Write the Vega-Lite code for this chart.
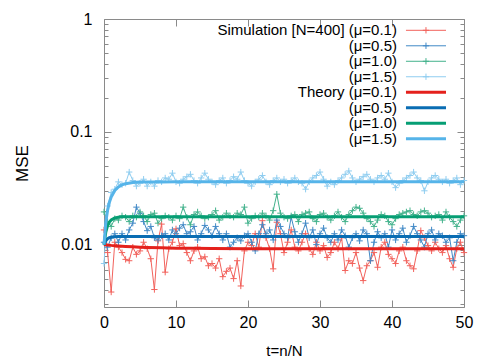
{
  "$schema": "https://vega.github.io/schema/vega-lite/v6.json",
  "width": 360,
  "height": 288,
  "autosize": {"type": "none"},
  "padding": {"left": 104, "top": 19, "right": 16, "bottom": 53},
  "background": "white",
  "config": {
    "view": {"stroke": "#8a8a8a", "strokeWidth": 1},
    "axis": {"domain": false, "grid": false, "tickColor": "#8a8a8a", "labelFont": "Liberation Sans", "titleFont": "Liberation Sans", "labelFontSize": 16, "titleFontSize": 15, "labelColor": "#000", "titleColor": "#000", "titleFontWeight": "normal", "labelFlush": false, "labelOverlap": false},
    "text": {"font": "Liberation Sans"}
  },
  "datasets": {
    "sim": [
      {"t":0,"sr":0.0135,"sb":0.0105,"sg":0.0195,"sc":0.0068},
      {"t":0.5,"sr":0.0085,"sb":0.0095,"sg":0.016,"sc":0.022},
      {"t":1,"sr":0.0038,"sb":0.0115,"sg":0.0145,"sc":0.029},
      {"t":1.5,"sr":0.0105,"sb":0.0125,"sg":0.017,"sc":0.031},
      {"t":2,"sr":0.0095,"sb":0.0105,"sg":0.0165,"sc":0.036},
      {"t":2.5,"sr":0.0085,"sb":0.0125,"sg":0.018,"sc":0.034},
      {"t":3,"sr":0.0074,"sb":0.011,"sg":0.0175,"sc":0.035},
      {"t":3.5,"sr":0.0072,"sb":0.0135,"sg":0.016,"sc":0.044},
      {"t":4,"sr":0.0095,"sb":0.0155,"sg":0.018,"sc":0.037},
      {"t":4.5,"sr":0.0082,"sb":0.0215,"sg":0.0175,"sc":0.033},
      {"t":5,"sr":0.0088,"sb":0.019,"sg":0.0195,"sc":0.035},
      {"t":5.5,"sr":0.0105,"sb":0.016,"sg":0.018,"sc":0.038},
      {"t":6,"sr":0.0092,"sb":0.0133,"sg":0.016,"sc":0.033},
      {"t":6.5,"sr":0.0075,"sb":0.0145,"sg":0.0185,"sc":0.036},
      {"t":7,"sr":0.004,"sb":0.0115,"sg":0.019,"sc":0.033},
      {"t":7.5,"sr":0.0108,"sb":0.011,"sg":0.0155,"sc":0.037},
      {"t":8,"sr":0.0152,"sb":0.012,"sg":0.017,"sc":0.036},
      {"t":8.5,"sr":0.0057,"sb":0.0125,"sg":0.018,"sc":0.039},
      {"t":9,"sr":0.0092,"sb":0.011,"sg":0.0175,"sc":0.038},
      {"t":9.5,"sr":0.0105,"sb":0.0135,"sg":0.0165,"sc":0.043},
      {"t":10,"sr":0.0138,"sb":0.0125,"sg":0.018,"sc":0.036},
      {"t":10.5,"sr":0.0098,"sb":0.014,"sg":0.017,"sc":0.035},
      {"t":11,"sr":0.0102,"sb":0.015,"sg":0.0215,"sc":0.038},
      {"t":11.5,"sr":0.0085,"sb":0.0125,"sg":0.0175,"sc":0.04},
      {"t":12,"sr":0.0072,"sb":0.013,"sg":0.015,"sc":0.042},
      {"t":12.5,"sr":0.0088,"sb":0.0145,"sg":0.0185,"sc":0.037},
      {"t":13,"sr":0.0095,"sb":0.011,"sg":0.0195,"sc":0.035},
      {"t":13.5,"sr":0.0075,"sb":0.0125,"sg":0.018,"sc":0.039},
      {"t":14,"sr":0.0078,"sb":0.0148,"sg":0.017,"sc":0.043},
      {"t":14.5,"sr":0.0065,"sb":0.0135,"sg":0.0175,"sc":0.038},
      {"t":15,"sr":0.0068,"sb":0.012,"sg":0.0185,"sc":0.036},
      {"t":15.5,"sr":0.0062,"sb":0.0145,"sg":0.02,"sc":0.034},
      {"t":16,"sr":0.0075,"sb":0.0125,"sg":0.0165,"sc":0.037},
      {"t":16.5,"sr":0.0052,"sb":0.011,"sg":0.0175,"sc":0.039},
      {"t":17,"sr":0.0058,"sb":0.0125,"sg":0.019,"sc":0.035},
      {"t":17.5,"sr":0.0062,"sb":0.0095,"sg":0.018,"sc":0.037},
      {"t":18,"sr":0.005,"sb":0.0105,"sg":0.0175,"sc":0.04},
      {"t":18.5,"sr":0.0072,"sb":0.0115,"sg":0.019,"sc":0.038},
      {"t":19,"sr":0.0043,"sb":0.0108,"sg":0.0185,"sc":0.044},
      {"t":19.5,"sr":0.0088,"sb":0.012,"sg":0.0215,"sc":0.037},
      {"t":20,"sr":0.0105,"sb":0.0125,"sg":0.0155,"sc":0.035},
      {"t":20.5,"sr":0.0098,"sb":0.0105,"sg":0.017,"sc":0.033},
      {"t":21,"sr":0.0125,"sb":0.0088,"sg":0.018,"sc":0.036},
      {"t":21.5,"sr":0.0095,"sb":0.0125,"sg":0.0175,"sc":0.038},
      {"t":22,"sr":0.0163,"sb":0.015,"sg":0.019,"sc":0.041},
      {"t":22.5,"sr":0.0115,"sb":0.0125,"sg":0.018,"sc":0.036},
      {"t":23,"sr":0.0092,"sb":0.0135,"sg":0.0165,"sc":0.034},
      {"t":23.5,"sr":0.0061,"sb":0.011,"sg":0.02,"sc":0.037},
      {"t":24,"sr":0.0158,"sb":0.0165,"sg":0.028,"sc":0.039},
      {"t":24.5,"sr":0.0125,"sb":0.0145,"sg":0.019,"sc":0.036},
      {"t":25,"sr":0.0085,"sb":0.0125,"sg":0.0175,"sc":0.038},
      {"t":25.5,"sr":0.0105,"sb":0.0115,"sg":0.017,"sc":0.035},
      {"t":26,"sr":0.0135,"sb":0.0175,"sg":0.018,"sc":0.037},
      {"t":26.5,"sr":0.0095,"sb":0.013,"sg":0.0185,"sc":0.039},
      {"t":27,"sr":0.0088,"sb":0.0105,"sg":0.016,"sc":0.036},
      {"t":27.5,"sr":0.0105,"sb":0.0125,"sg":0.0185,"sc":0.035},
      {"t":28,"sr":0.0125,"sb":0.0155,"sg":0.019,"sc":0.031},
      {"t":28.5,"sr":0.0092,"sb":0.0115,"sg":0.0195,"sc":0.036},
      {"t":29,"sr":0.0082,"sb":0.0135,"sg":0.017,"sc":0.039},
      {"t":29.5,"sr":0.0105,"sb":0.01,"sg":0.016,"sc":0.041},
      {"t":30,"sr":0.0088,"sb":0.0125,"sg":0.0185,"sc":0.044},
      {"t":30.5,"sr":0.0098,"sb":0.014,"sg":0.019,"sc":0.038},
      {"t":31,"sr":0.0077,"sb":0.0115,"sg":0.0175,"sc":0.033},
      {"t":31.5,"sr":0.0085,"sb":0.0105,"sg":0.0165,"sc":0.036},
      {"t":32,"sr":0.0105,"sb":0.0125,"sg":0.018,"sc":0.034},
      {"t":32.5,"sr":0.0092,"sb":0.011,"sg":0.0195,"sc":0.037},
      {"t":33,"sr":0.0115,"sb":0.0135,"sg":0.0175,"sc":0.039},
      {"t":33.5,"sr":0.0059,"sb":0.012,"sg":0.016,"sc":0.042},
      {"t":34,"sr":0.0072,"sb":0.0095,"sg":0.0185,"sc":0.045},
      {"t":34.5,"sr":0.0068,"sb":0.0115,"sg":0.02,"sc":0.039},
      {"t":35,"sr":0.0085,"sb":0.0125,"sg":0.0215,"sc":0.036},
      {"t":35.5,"sr":0.0062,"sb":0.0108,"sg":0.021,"sc":0.038},
      {"t":36,"sr":0.0048,"sb":0.0135,"sg":0.019,"sc":0.04},
      {"t":36.5,"sr":0.0065,"sb":0.0125,"sg":0.017,"sc":0.042},
      {"t":37,"sr":0.0072,"sb":0.0072,"sg":0.016,"sc":0.038},
      {"t":37.5,"sr":0.0085,"sb":0.0105,"sg":0.0145,"sc":0.036},
      {"t":38,"sr":0.0063,"sb":0.013,"sg":0.0165,"sc":0.039},
      {"t":38.5,"sr":0.0095,"sb":0.0115,"sg":0.0185,"sc":0.041},
      {"t":39,"sr":0.0105,"sb":0.0125,"sg":0.018,"sc":0.038},
      {"t":39.5,"sr":0.0082,"sb":0.0095,"sg":0.016,"sc":0.043},
      {"t":40,"sr":0.0075,"sb":0.0135,"sg":0.015,"sc":0.036},
      {"t":40.5,"sr":0.0068,"sb":0.011,"sg":0.017,"sc":0.032},
      {"t":41,"sr":0.0088,"sb":0.0125,"sg":0.0185,"sc":0.035},
      {"t":41.5,"sr":0.0095,"sb":0.014,"sg":0.019,"sc":0.037},
      {"t":42,"sr":0.0072,"sb":0.0105,"sg":0.0195,"sc":0.039},
      {"t":42.5,"sr":0.0065,"sb":0.012,"sg":0.02,"sc":0.041},
      {"t":43,"sr":0.0061,"sb":0.0145,"sg":0.0185,"sc":0.044},
      {"t":43.5,"sr":0.0088,"sb":0.0125,"sg":0.018,"sc":0.039},
      {"t":44,"sr":0.0133,"sb":0.011,"sg":0.0195,"sc":0.037},
      {"t":44.5,"sr":0.0115,"sb":0.0095,"sg":0.02,"sc":0.03},
      {"t":45,"sr":0.0098,"sb":0.0125,"sg":0.019,"sc":0.036},
      {"t":45.5,"sr":0.0088,"sb":0.0135,"sg":0.0175,"sc":0.039},
      {"t":46,"sr":0.0105,"sb":0.011,"sg":0.018,"sc":0.041},
      {"t":46.5,"sr":0.0092,"sb":0.0125,"sg":0.0185,"sc":0.038},
      {"t":47,"sr":0.0085,"sb":0.012,"sg":0.0165,"sc":0.036},
      {"t":47.5,"sr":0.0098,"sb":0.0105,"sg":0.0195,"sc":0.038},
      {"t":48,"sr":0.0075,"sb":0.0115,"sg":0.0175,"sc":0.035},
      {"t":48.5,"sr":0.0063,"sb":0.0072,"sg":0.016,"sc":0.037},
      {"t":49,"sr":0.0092,"sb":0.0105,"sg":0.0145,"sc":0.039},
      {"t":49.5,"sr":0.0105,"sb":0.0125,"sg":0.0165,"sc":0.034},
      {"t":50,"sr":0.0085,"sb":0.012,"sg":0.018,"sc":0.037}
    ],
    "theory": [
      {"t":0,"tr":0.01,"tb":0.01,"tg":0.01,"tc":0.01},
      {"t":0.25,"tr":0.00996,"tb":0.01084,"tg":0.01291,"tc":0.01575},
      {"t":0.5,"tr":0.00992,"tb":0.01128,"tg":0.01472,"tc":0.02023},
      {"t":0.75,"tr":0.00989,"tb":0.01152,"tg":0.01585,"tc":0.02372},
      {"t":1,"tr":0.00985,"tb":0.01165,"tg":0.01655,"tc":0.02643},
      {"t":1.5,"tr":0.00979,"tb":0.01176,"tg":0.01725,"tc":0.0302},
      {"t":2,"tr":0.00974,"tb":0.01179,"tg":0.01753,"tc":0.03248},
      {"t":2.5,"tr":0.00969,"tb":0.0118,"tg":0.01763,"tc":0.03387},
      {"t":3,"tr":0.00964,"tb":0.0118,"tg":0.01767,"tc":0.03471},
      {"t":4,"tr":0.00956,"tb":0.0118,"tg":0.0177,"tc":0.03552},
      {"t":5,"tr":0.00949,"tb":0.0118,"tg":0.0177,"tc":0.03582},
      {"t":6,"tr":0.00944,"tb":0.0118,"tg":0.0177,"tc":0.03594},
      {"t":8,"tr":0.00936,"tb":0.0118,"tg":0.0177,"tc":0.03599},
      {"t":10,"tr":0.00931,"tb":0.0118,"tg":0.0177,"tc":0.036},
      {"t":12,"tr":0.00927,"tb":0.0118,"tg":0.0177,"tc":0.036},
      {"t":15,"tr":0.00924,"tb":0.0118,"tg":0.0177,"tc":0.036},
      {"t":20,"tr":0.00921,"tb":0.0118,"tg":0.0177,"tc":0.036},
      {"t":30,"tr":0.0092,"tb":0.0118,"tg":0.0177,"tc":0.036},
      {"t":40,"tr":0.0092,"tb":0.0118,"tg":0.0177,"tc":0.036},
      {"t":50,"tr":0.0092,"tb":0.0118,"tg":0.0177,"tc":0.036}
    ],
    "leg": [
      {"k":"a","label":"Simulation [N=400] (μ=0.1)","series":"sr","kind":"sim"},
      {"k":"b","label":"(μ=0.5)","series":"sb","kind":"sim"},
      {"k":"c","label":"(μ=1.0)","series":"sg","kind":"sim"},
      {"k":"d","label":"(μ=1.5)","series":"sc","kind":"sim"},
      {"k":"e","label":"Theory (μ=0.1)","series":"tr","kind":"theory"},
      {"k":"f","label":"(μ=0.5)","series":"tb","kind":"theory"},
      {"k":"g","label":"(μ=1.0)","series":"tg","kind":"theory"},
      {"k":"h","label":"(μ=1.5)","series":"tc","kind":"theory"}
    ]
  },
  "layer": [
    {
      "layer": [
        {
          "data": {"name": "sim"},
          "transform": [{"fold": ["sr","sb","sg","sc"], "as": ["series","v"]}],
          "mark": {"type": "line", "strokeWidth": 1},
          "encoding": {
            "x": {"field": "t", "type": "quantitative", "scale": {"domain": [0,50], "nice": false},
                  "axis": {"orient": "bottom", "values": [0,10,20,30,40,50], "tickSize": -7, "labelPadding": 14, "title": "t=n/N", "titleY": 43, "titleBaseline": "middle"}},
            "y": {"field": "v", "type": "quantitative", "scale": {"type": "log", "domain": [0.0028,1], "nice": false},
                  "axis": {"orient": "left", "values": [0.01,0.1,1], "format": "~g", "tickSize": -7, "labelPadding": 19, "title": "MSE", "titleFontSize": 17, "titleX": -82, "titleY": 144, "titleAngle": -90, "titleAlign": "center", "titleBaseline": "middle"}},
            "color": {"field": "series", "type": "nominal", "legend": null,
                      "scale": {"domain": ["sr","sb","sg","sc","tr","tb","tg","tc"], "range": ["#f2625c","#4189c6","#43b28c","#8fcdf0","#e4211c","#0a6db3","#069e74","#56b4e9"]}},
            "detail": {"field": "series"}
          }
        },
        {
          "data": {"name": "sim"},
          "transform": [{"fold": ["sr","sb","sg","sc"], "as": ["series","v"]}],
          "mark": {"type": "point", "shape": "M-1,0H1M0,-1V1", "filled": false, "strokeWidth": 1, "size": 40, "opacity": 1},
          "encoding": {
            "x": {"field": "t", "type": "quantitative", "scale": {"domain": [0,50], "nice": false},
                  "axis": {"orient": "top", "values": [0,10,20,30,40,50], "tickSize": -7, "labels": false, "title": null}},
            "y": {"field": "v", "type": "quantitative", "scale": {"type": "log", "domain": [0.0028,1], "nice": false},
                  "axis": {"orient": "right", "values": [0.01,0.1,1], "tickSize": -7, "labels": false, "title": null}},
            "color": {"field": "series", "type": "nominal", "legend": null}
          }
        },
        {
          "data": {"name": "theory"},
          "transform": [{"fold": ["tr","tb"], "as": ["series","v"]}],
          "mark": {"type": "line", "strokeWidth": 3},
          "encoding": {
            "x": {"field": "t", "type": "quantitative", "axis": null},
            "y": {"field": "v", "type": "quantitative", "scale": {"type": "log", "domain": [0.0028,1], "nice": false},
                  "axis": {"orient": "left", "values": [0.003,0.004,0.005,0.006,0.007,0.008,0.009,0.02,0.03,0.04,0.05,0.06,0.07,0.08,0.09,0.2,0.3,0.4,0.5,0.6,0.7,0.8,0.9], "tickSize": -4, "labels": false, "title": null}},
            "color": {"field": "series", "type": "nominal", "legend": null},
            "detail": {"field": "series"}
          }
        },
        {
          "data": {"name": "theory"},
          "transform": [{"fold": ["tg","tc"], "as": ["series","v"]}],
          "mark": {"type": "line", "strokeWidth": 3},
          "encoding": {
            "x": {"field": "t", "type": "quantitative", "axis": null},
            "y": {"field": "v", "type": "quantitative", "scale": {"type": "log", "domain": [0.0028,1], "nice": false},
                  "axis": {"orient": "right", "values": [0.003,0.004,0.005,0.006,0.007,0.008,0.009,0.02,0.03,0.04,0.05,0.06,0.07,0.08,0.09,0.2,0.3,0.4,0.5,0.6,0.7,0.8,0.9], "tickSize": -4, "labels": false, "title": null}},
            "color": {"field": "series", "type": "nominal", "legend": null},
            "detail": {"field": "series"}
          }
        }
      ],
      "resolve": {"axis": {"x": "independent", "y": "independent"}}
    },
    {
      "data": {"name": "leg"},
      "mark": {"type": "text", "align": "right", "baseline": "middle", "fontSize": 15, "font": "Liberation Sans", "color": "#000"},
      "encoding": {
        "x": {"datum": 40.69, "axis": null},
        "y": {"field": "k", "type": "ordinal", "axis": null, "scale": {"type": "point", "domain": ["a","b","c","d","e","f","g","h"], "range": [11.3,119.7], "padding": 0}},
        "text": {"field": "label"}
      }
    },
    {
      "data": {"name": "leg"},
      "transform": [{"filter": "datum.kind === 'sim'"}],
      "mark": {"type": "rule", "strokeWidth": 1},
      "encoding": {
        "x": {"datum": 41.94, "axis": null},
        "x2": {"datum": 47.5},
        "y": {"field": "k", "type": "ordinal", "axis": null, "scale": {"type": "point", "domain": ["a","b","c","d","e","f","g","h"], "range": [11.3,119.7], "padding": 0}},
        "color": {"field": "series", "type": "nominal", "legend": null}
      }
    },
    {
      "data": {"name": "leg"},
      "transform": [{"filter": "datum.kind === 'theory'"}],
      "mark": {"type": "rule", "strokeWidth": 3},
      "encoding": {
        "x": {"datum": 41.94, "axis": null},
        "x2": {"datum": 47.5},
        "y": {"field": "k", "type": "ordinal", "axis": null, "scale": {"type": "point", "domain": ["a","b","c","d","e","f","g","h"], "range": [11.3,119.7], "padding": 0}},
        "color": {"field": "series", "type": "nominal", "legend": null}
      }
    },
    {
      "data": {"name": "leg"},
      "transform": [{"filter": "datum.kind === 'sim'"}],
      "mark": {"type": "point", "shape": "M-1,0H1M0,-1V1", "filled": false, "strokeWidth": 1, "size": 40, "opacity": 1},
      "encoding": {
        "x": {"datum": 44.72, "axis": null},
        "y": {"field": "k", "type": "ordinal", "axis": null, "scale": {"type": "point", "domain": ["a","b","c","d","e","f","g","h"], "range": [11.3,119.7], "padding": 0}},
        "color": {"field": "series", "type": "nominal", "legend": null}
      }
    }
  ],
  "resolve": {"scale": {"y": "independent"}, "axis": {"x": "independent", "y": "independent"}}
}
